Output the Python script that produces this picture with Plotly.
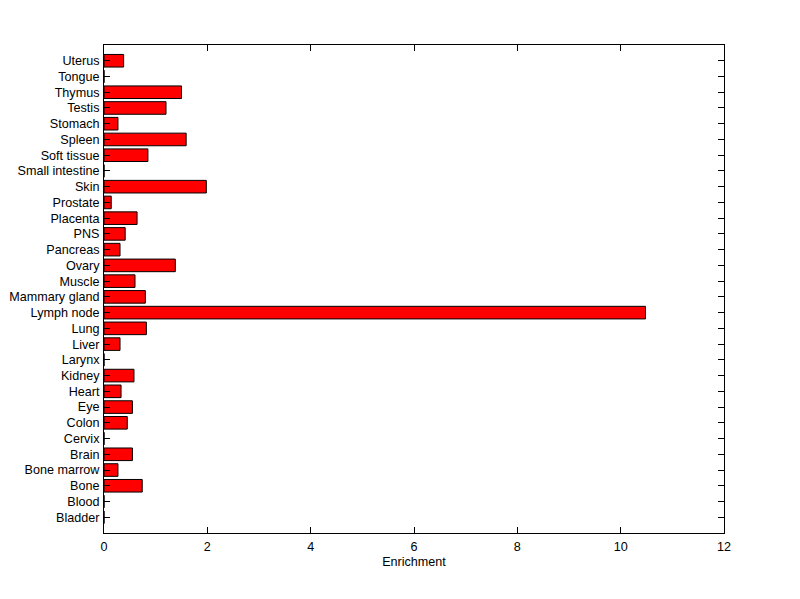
import plotly.graph_objects as go

tissues = ["Bladder", "Blood", "Bone", "Bone marrow", "Brain", "Cervix", "Colon", "Eye",
           "Heart", "Kidney", "Larynx", "Liver", "Lung", "Lymph node", "Mammary gland",
           "Muscle", "Ovary", "Pancreas", "PNS", "Placenta", "Prostate", "Skin",
           "Small intestine", "Soft tissue", "Spleen", "Stomach", "Testis", "Thymus",
           "Tongue", "Uterus"]
enrichment = [0, 0, 0.74, 0.27, 0.55, 0, 0.45, 0.55,
              0.33, 0.58, 0, 0.31, 0.82, 10.48, 0.80,
              0.60, 1.38, 0.31, 0.41, 0.64, 0.14, 1.98,
              0, 0.85, 1.59, 0.27, 1.20, 1.50,
              0, 0.38]
x_ticks = [0, 2, 4, 6, 8, 10, 12]

FONT = "Liberation Sans, Arial, sans-serif"

fig = go.Figure(go.Bar(
    x=enrichment, y=tissues, orientation="h", width=0.8,
    marker=dict(color="#ff0000", line=dict(color="black", width=1)),
))

axis_common = dict(showline=True, linecolor="black", linewidth=1, mirror="ticks",
                   ticks="inside", ticklen=6, tickcolor="black", tickwidth=1,
                   showgrid=False, zeroline=False, automargin=False,
                   tickfont=dict(family=FONT, size=12.6, color="black"))

fig.update_layout(
    width=792, height=591,
    paper_bgcolor="white", plot_bgcolor="white",
    margin=dict(l=96, r=76, t=37, b=66),
    showlegend=False,
    xaxis=dict(range=[0, 12], tickvals=x_ticks, ticklabelstandoff=2,
               title=dict(text="Enrichment", standoff=4,
                          font=dict(family=FONT, size=12.6, color="black")),
               **axis_common),
    yaxis=dict(categoryorder="array", categoryarray=tissues, range=[-1, 30],
               tickmode="array", tickvals=tissues, ticktext=tissues,
               ticklabelstandoff=1, **axis_common),
)

fig.write_html("out.html")
